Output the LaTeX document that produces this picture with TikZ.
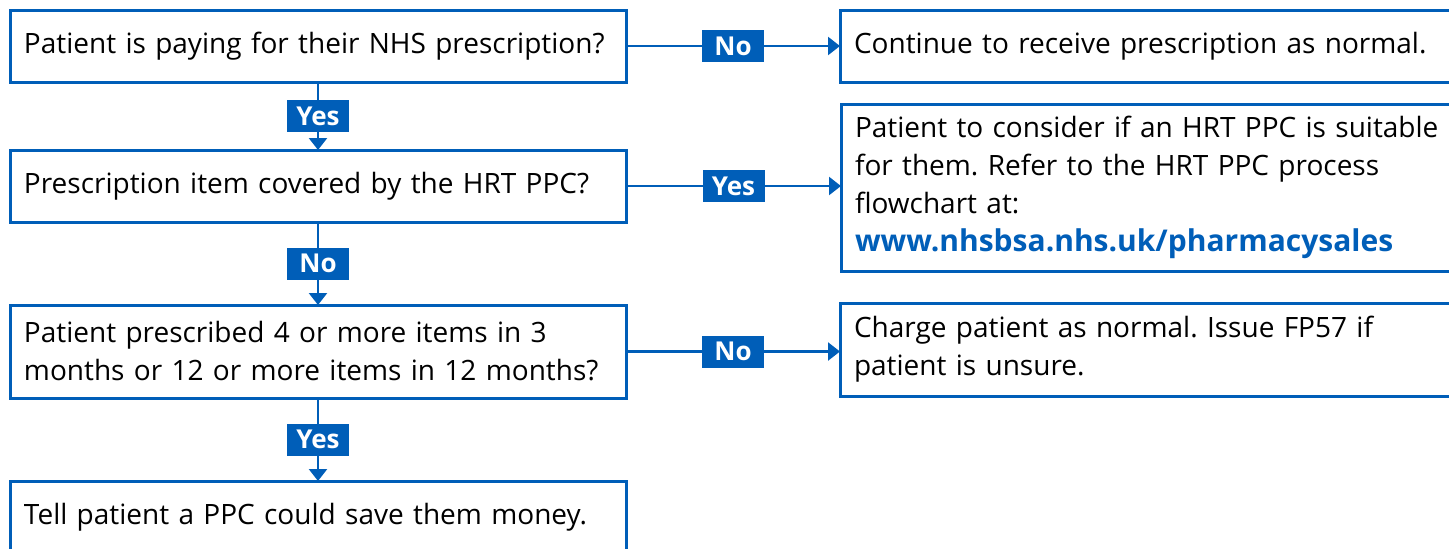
\documentclass[tikz,border=0pt]{standalone}
\usepackage{fontspec}
\setmainfont{Open Sans}
\usetikzlibrary{arrows.meta}
\usetikzlibrary{positioning}
\definecolor{nhsblue}{HTML}{005EB8}

\begin{document}
\frenchspacing
\begin{tikzpicture}[%
x={(0.5pt,0pt)},
y={(0pt,-0.5pt)},
box/.style={draw=nhsblue,line width=1.5pt,anchor=north west,align=left,
  inner xsep=7pt,inner ysep=0pt,outer sep=0pt,font=\fontsize{14}{19}\selectfont},
tag/.style={fill=nhsblue,text=white,font=\bfseries\fontsize{13}{15}\selectfont,
  inner sep=0pt,minimum width=31pt,minimum height=16pt},
pfeil/.style={draw=nhsblue,line width=1.2pt,-{Triangle[width=9pt,length=6pt]}},
]

\useasboundingbox (0,0) rectangle (1449,548);

%Fragen
\node[box,text width=294pt,minimum height=36pt](q1) at (10,10)
  {Patient is paying for their NHS prescription?};
\node[box,text width=294pt,minimum height=36pt](q2) at (10,150)
  {Prescription item covered by the HRT PPC?};
\node[box,text width=294pt,minimum height=46.5pt](q3) at (10,305)
  {Patient prescribed 4 or more items in 3\\months or 12 or more items in 12 months?};
\node[box,text width=294pt,minimum height=36pt](q4) at (10,481)
  {Tell patient a PPC could save them money.};

%Antworten
\node[box,text width=330pt,minimum height=36pt](r1) at (840,10)
  {Continue to receive prescription as normal.};
\node[box,text width=330pt,minimum height=83.5pt](r2) at (841,104)
  {Patient to consider if an HRT PPC is suitable\\for them. Refer to the HRT PPC process\\flowchart at:\\
   \textcolor{nhsblue}{\bfseries\fontsize{15}{19}\selectfont www.nhsbsa.nhs.uk/pharmacysales}};
\node[box,text width=330pt,minimum height=46.5pt](r3) at (840,303)
  {Charge patient as normal. Issue FP57 if\\patient is unsure.};

%Pfeile
\draw[pfeil] (q1) -- node[tag]{Yes} (q2);
\draw[pfeil] (q2) -- node[tag]{No} (q3);
\draw[pfeil] (q3) -- node[tag]{Yes} (q4);
\draw[pfeil] (q1) -- node[tag]{No} (q1 -| r1.west);
\draw[pfeil] (q2.east) -- node[tag]{Yes} (q2.east -| r2.west);
\draw[pfeil] (q3.east) -- node[tag]{No} (q3.east -| r3.west);

\end{tikzpicture}
\end{document}
